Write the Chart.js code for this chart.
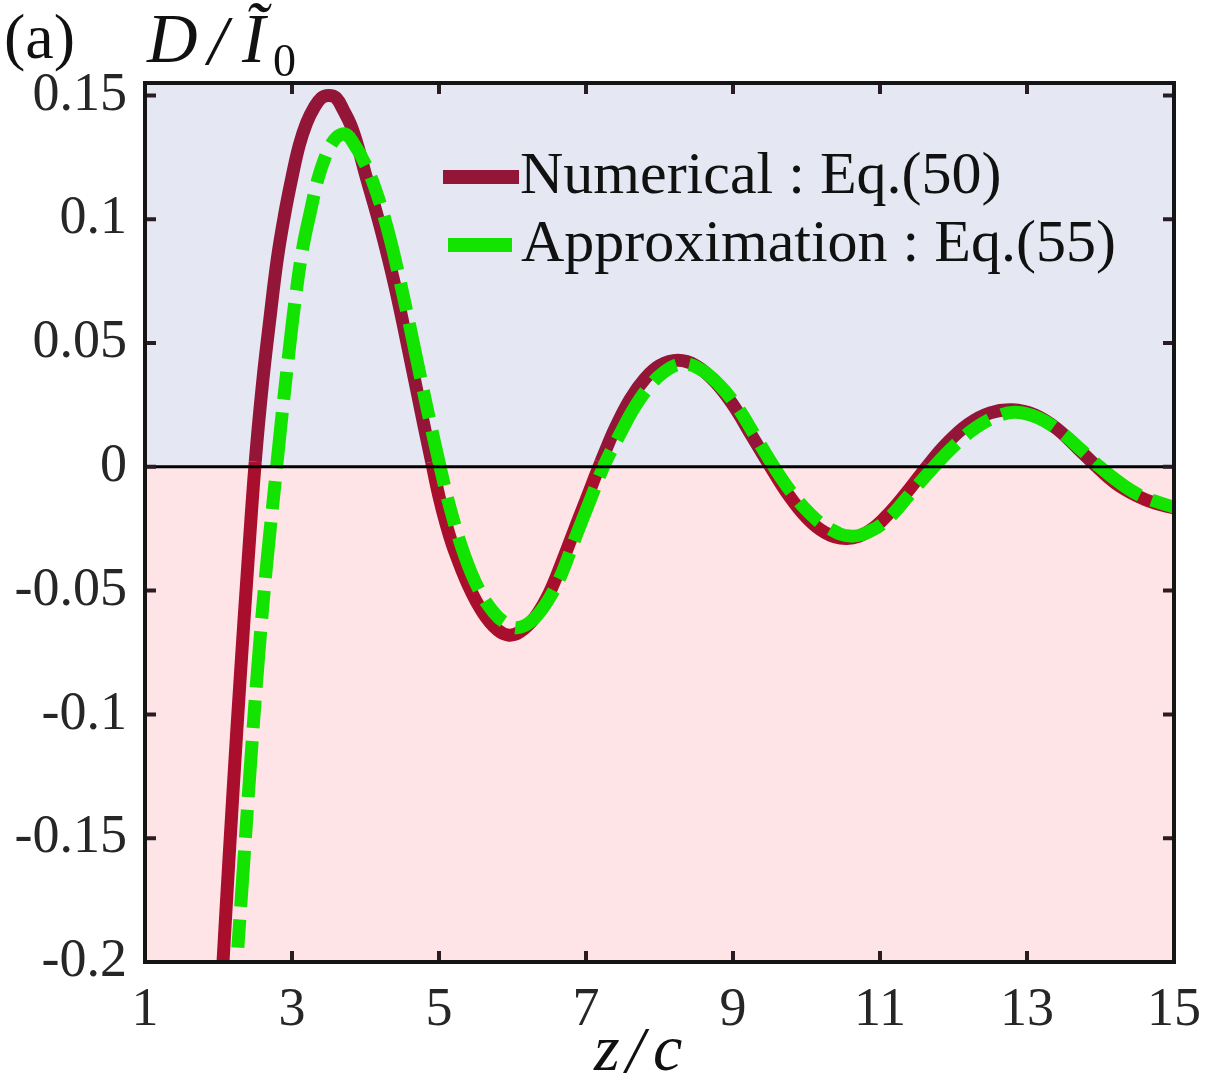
<!DOCTYPE html>
<html>
<head>
<meta charset="utf-8">
<script src="https://cdn.jsdelivr.net/npm/chart.js@4.4.1/dist/chart.umd.min.js"></script>
<style>
  html, body { margin: 0; padding: 0; background: #fff; }
  canvas { display: block; }
</style>
</head>
<body>
<canvas id="myChart" width="1217" height="1089"></canvas>
<script>
// tick positions and labels
const xTicks = [1, 3, 5, 7, 9, 11, 13, 15];
const xTickLabels = ['1', '3', '5', '7', '9', '11', '13', '15'];
const yTicks = [-0.2, -0.15, -0.1, -0.05, 0, 0.05, 0.1, 0.15];
const yTickLabels = ['-0.2', '-0.15', '-0.1', '-0.05', '0', '0.05', '0.1', '0.15'];

// Numerical : Eq.(50)
const numericalX = [2.0, 2.1, 2.2, 2.3, 2.4, 2.5, 2.6, 2.7, 2.8, 2.9, 3.0, 3.1, 3.2, 3.3, 3.4, 3.5,
  3.6, 3.7, 3.8, 3.9, 4.0, 4.2, 4.4, 4.6, 4.8, 4.9, 5.0, 5.1, 5.2, 5.4, 5.6, 5.8, 5.95, 6.1, 6.3,
  6.5, 6.7, 6.9, 7.0, 7.1, 7.2, 7.3, 7.4, 7.6, 7.8, 8.0, 8.25, 8.5, 8.75, 9.0, 9.25, 9.5, 9.75,
  10.0, 10.25, 10.55, 10.85, 11.1, 11.4, 11.65, 11.9, 12.2, 12.5, 12.8, 13.1, 13.4, 13.7, 13.95,
  14.2, 14.5, 14.75, 15.0];
const numericalY = [-0.232, -0.18, -0.13, -0.083, -0.039, 0.002, 0.034, 0.060, 0.084, 0.102, 0.117,
  0.130, 0.139, 0.145, 0.149, 0.150, 0.149, 0.144, 0.138, 0.129, 0.118, 0.097, 0.073, 0.045, 0.016,
  0.002, -0.012, -0.0235, -0.033, -0.048, -0.059, -0.066, -0.068, -0.0667, -0.061, -0.051, -0.0365,
  -0.021, -0.0135, -0.0058, 0.0018, 0.009, 0.0158, 0.0272, 0.0355, 0.0408, 0.043, 0.0408, 0.0345,
  0.025, 0.0128, 0.0005, -0.0112, -0.0205, -0.0265, -0.029, -0.026, -0.0195, -0.009, 0.0005, 0.0092,
  0.0172, 0.0218, 0.023, 0.021, 0.0155, 0.0072, 0.0, -0.0065, -0.0118, -0.0148, -0.0166];

// Approximation : Eq.(55)
const approxX = [2.2, 2.25, 2.35, 2.45, 2.55, 2.65, 2.75, 2.85, 2.95, 3.05, 3.15, 3.25, 3.35, 3.45,
  3.55, 3.65, 3.75, 3.85, 3.95, 4.1, 4.3, 4.5, 4.7, 4.85, 5.0, 5.15, 5.35, 5.55, 5.75, 5.9, 6.06,
  6.25, 6.45, 6.65, 6.85, 7.05, 7.25, 7.45, 7.65, 7.85, 8.05, 8.3, 8.55, 8.8, 9.05, 9.3, 9.55, 9.8,
  10.05, 10.3, 10.6, 10.9, 11.15, 11.45, 11.75, 12.0, 12.3, 12.6, 12.85, 13.15, 13.45, 13.75, 14.0,
  14.25, 14.5, 14.75, 15.0];
const approxY = [-0.222, -0.2, -0.157, -0.114, -0.075, -0.041, -0.012, 0.017, 0.044, 0.069, 0.089,
  0.103, 0.116, 0.125, 0.131, 0.134, 0.134, 0.130, 0.125, 0.115, 0.096, 0.071, 0.043, 0.022, 0.002,
  -0.0165, -0.036, -0.050, -0.059, -0.063, -0.065, -0.0625, -0.0555, -0.0445, -0.029, -0.014, 0.0008,
  0.0125, 0.0235, 0.032, 0.038, 0.0415, 0.0395, 0.0335, 0.0245, 0.0125, 0.0003, -0.0105, -0.019,
  -0.0248, -0.028, -0.0255, -0.0198, -0.0095, 0.0005, 0.0082, 0.0157, 0.0205, 0.022, 0.0198, 0.0143,
  0.0065, -0.0003, -0.0062, -0.011, -0.014, -0.0163];

const serif = '"Liberation Serif", "Times New Roman", serif';
const redUp = '#931638';
const redDown = '#a90f2d';
const green = '#12e400';

// pink / blue halves behind the curves
const bands = {
  id: 'bands',
  beforeDatasetsDraw(chart) {
    const { ctx, chartArea: a, scales } = chart;
    const y0 = scales.y.getPixelForValue(0);
    ctx.save();
    ctx.fillStyle = '#e5e8f2';
    ctx.fillRect(a.left, a.top, a.right - a.left, y0 - a.top);
    ctx.fillStyle = '#fee4e6';
    ctx.fillRect(a.left, y0, a.right - a.left, a.bottom - y0);
    ctx.restore();
  }
};

// zero line, box and inward ticks on all four sides
const frame = {
  id: 'frame',
  afterDatasetsDraw(chart) {
    const { ctx, chartArea: a, scales } = chart;
    ctx.save();
    const y0 = scales.y.getPixelForValue(0);
    ctx.strokeStyle = '#000';
    ctx.lineWidth = 3;
    ctx.beginPath();
    ctx.moveTo(a.left, y0);
    ctx.lineTo(a.right, y0);
    ctx.stroke();

    ctx.strokeStyle = '#2a1c22';
    ctx.lineWidth = 4;
    const len = 11;
    ctx.beginPath();
    scales.x.ticks.forEach(t => {
      const px = scales.x.getPixelForValue(t.value);
      ctx.moveTo(px, a.bottom); ctx.lineTo(px, a.bottom - len);
      ctx.moveTo(px, a.top); ctx.lineTo(px, a.top + len);
    });
    scales.y.ticks.forEach(t => {
      const py = scales.y.getPixelForValue(t.value);
      ctx.moveTo(a.left, py); ctx.lineTo(a.left + len, py);
      ctx.moveTo(a.right, py); ctx.lineTo(a.right - len, py);
    });
    ctx.stroke();

    ctx.strokeStyle = '#151515';
    ctx.lineWidth = 4;
    ctx.strokeRect(a.left, a.top, a.right - a.left, a.bottom - a.top);
    ctx.restore();
  }
};

// texts and legend
const labels = {
  id: 'labels',
  afterDraw(chart) {
    const ctx = chart.ctx;
    ctx.save();
    ctx.fillStyle = '#111';
    ctx.textBaseline = 'alphabetic';
    ctx.textAlign = 'left';

    ctx.font = '64px ' + serif;
    ctx.fillText('(a)', 4, 58);

    ctx.font = 'italic 70px ' + serif;
    ctx.fillText('D', 147, 62);
    ctx.fillText('/', 208, 64);
    ctx.fillText('\u0128', 242, 62);
    ctx.font = '46px ' + serif;
    ctx.fillText('0', 273, 76);

    ctx.font = 'italic 66px ' + serif;
    ctx.fillText('z', 594, 1070);
    ctx.fillText('/', 626, 1072);
    ctx.fillText('c', 653, 1070);

    // legend
    const ds = chart.data.datasets;
    ctx.lineCap = 'butt';
    ctx.lineWidth = 14;
    ctx.strokeStyle = redUp;
    ctx.beginPath(); ctx.moveTo(443, 177); ctx.lineTo(519, 177); ctx.stroke();
    ctx.strokeStyle = green;
    ctx.beginPath(); ctx.moveTo(448, 245); ctx.lineTo(512, 245); ctx.stroke();
    ctx.font = '60px ' + serif;
    ctx.fillStyle = '#111';
    ctx.fillText(ds[0].label, 520, 193);
    ctx.fillText(ds[1].label, 521, 261);
    ctx.restore();
  }
};

function segColor(c) {
  const mid = (c.p0.parsed.y + c.p1.parsed.y) / 2;
  return mid < 0 ? redDown : redUp;
}

const ctx = document.getElementById('myChart').getContext('2d');
new Chart(ctx, {
  type: 'line',
  data: {
    datasets: [{
      label: 'Numerical : Eq.(50)',
      data: numericalX.map((x, i) => ({ x: x, y: numericalY[i] })),
      borderColor: redUp,
      segment: { borderColor: segColor },
      borderWidth: 13,
      pointRadius: 0,
      tension: 0.4,
      borderCapStyle: 'butt',
      borderJoinStyle: 'round',
      clip: 0,
      order: 2
    }, {
      label: 'Approximation : Eq.(55)',
      data: approxX.map((x, i) => ({ x: x, y: approxY[i] })),
      borderColor: green,
      borderWidth: 13,
      borderDash: [56, 13, 28, 13],
      pointRadius: 0,
      tension: 0.4,
      borderCapStyle: 'butt',
      borderJoinStyle: 'round',
      clip: 0,
      order: 1
    }]
  },
  options: {
    responsive: false,
    animation: false,
    devicePixelRatio: 1,
    layout: { padding: { top: 83, right: 42, left: 0, bottom: 0 } },
    plugins: { legend: { display: false }, tooltip: { enabled: false } },
    scales: {
      x: {
        type: 'linear',
        min: 1,
        max: 15,
        afterBuildTicks: s => { s.ticks = xTicks.map(v => ({ value: v })); },
        afterFit: s => { s.height = 127; },
        ticks: {
          callback: (v, i) => xTickLabels[i],
          font: { family: serif, size: 54 },
          color: '#262626',
          padding: 16,
          maxRotation: 0,
          autoSkip: false
        },
        grid: { display: false, drawTicks: false },
        border: { display: false }
      },
      y: {
        type: 'linear',
        min: -0.2,
        max: 0.155,
        afterBuildTicks: s => { s.ticks = yTicks.map(v => ({ value: v })); },
        afterFit: s => { s.width = 145; },
        ticks: {
          callback: (v, i) => yTickLabels[i],
          font: { family: serif, size: 54 },
          color: '#262626',
          padding: 18,
          autoSkip: false
        },
        grid: { display: false, drawTicks: false },
        border: { display: false }
      }
    }
  },
  plugins: [bands, frame, labels]
});
</script>
</body>
</html>
